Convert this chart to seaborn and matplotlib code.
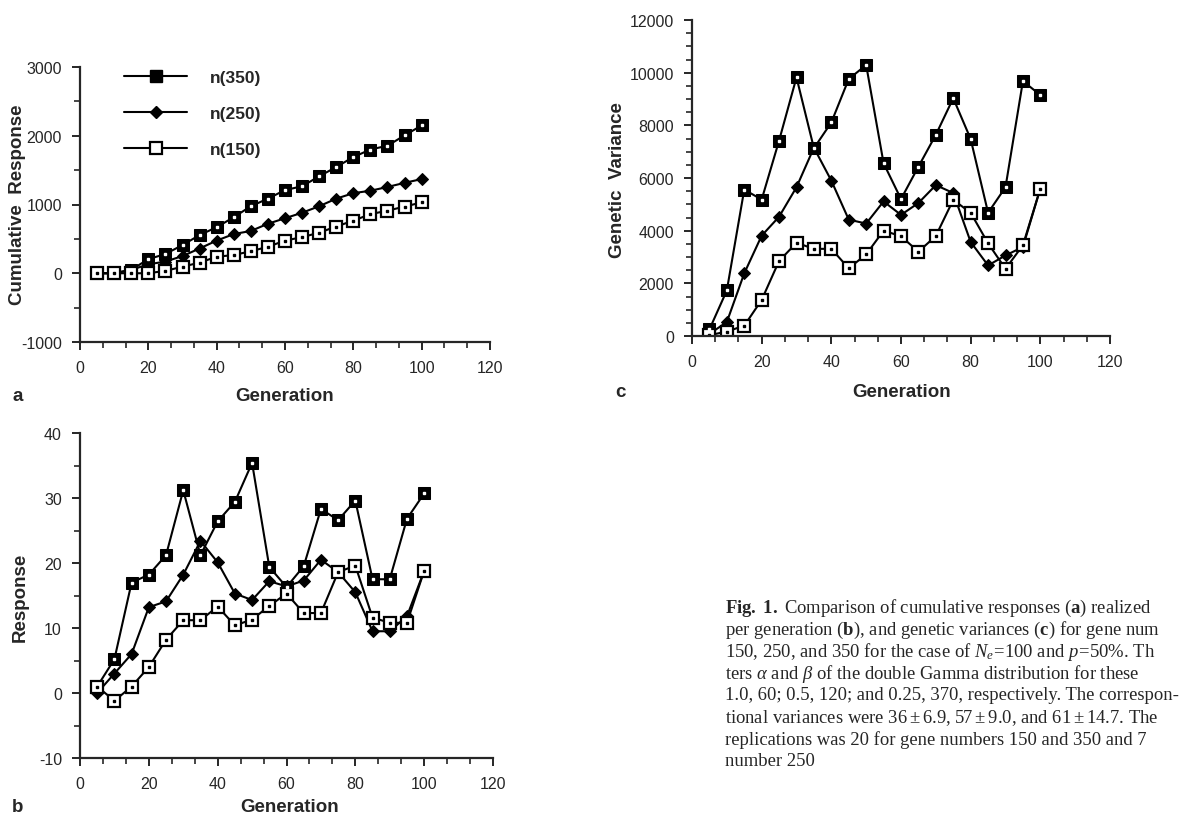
import numpy as np
import pandas as pd
import matplotlib
matplotlib.use('Agg')
import matplotlib.pyplot as plt
from matplotlib.ticker import MultipleLocator, AutoMinorLocator
import seaborn as sns

# data
generation = list(range(5, 101, 5))

cum_n350 = [0, 0, 50, 205, 280, 410, 555, 670, 815, 975, 1085, 1210, 1265, 1410, 1545, 1690, 1800, 1855, 2005, 2150]
cum_n250 = [0, 0, 50, 130, 170, 250, 360, 475, 570, 615, 720, 800, 880, 975, 1085, 1165, 1200, 1255, 1315, 1370]
cum_n150 = [0, 0, 0, 0, 35, 95, 155, 240, 265, 320, 385, 475, 525, 590, 680, 765, 860, 910, 970, 1030]

resp_n350 = [1.0, 5.2, 17.0, 18.2, 21.2, 31.2, 21.2, 26.4, 29.4, 35.4, 19.4, 16.3, 19.5, 28.3, 26.6, 29.6, 17.5, 17.5, 26.8, 30.7]
resp_n250 = [0.0, 3.0, 6.0, 13.2, 14.1, 18.2, 23.4, 20.1, 15.3, 14.3, 17.2, 16.4, 17.3, 20.5, 18.6, 15.5, 9.5, 9.5, 11.8, 18.8]
resp_n150 = [1.0, -1.2, 1.0, 4.0, 8.2, 11.2, 11.2, 13.3, 10.4, 11.3, 13.4, 15.3, 12.3, 12.3, 18.6, 19.6, 11.6, 10.8, 10.8, 18.8]

var_n350 = [250, 1730, 5560, 5180, 7420, 9820, 7130, 8110, 9760, 10290, 6560, 5200, 6430, 7640, 9030, 7480, 4680, 5650, 9680, 9150]
var_n250 = [80, 530, 2380, 3810, 4530, 5650, 7150, 5900, 4420, 4270, 5110, 4600, 5050, 5730, 5430, 3570, 2680, 3060, 3380, 5600]
var_n150 = [30, 170, 390, 1370, 2850, 3540, 3310, 3310, 2570, 3100, 4000, 3790, 3200, 3800, 5170, 4680, 3520, 2550, 3450, 5600]

series_labels = ['n(350)', 'n(250)', 'n(150)']

sns.set_style('ticks')
plt.rcParams['font.family'] = ['Liberation Sans', 'DejaVu Sans']
plt.rcParams['axes.unicode_minus'] = False
plt.rcParams['axes.linewidth'] = 1.6
plt.rcParams['xtick.major.width'] = 1.4
plt.rcParams['ytick.major.width'] = 1.4
plt.rcParams['xtick.minor.width'] = 1.2
plt.rcParams['ytick.minor.width'] = 1.2
plt.rcParams['mathtext.fontset'] = 'custom'
plt.rcParams['mathtext.rm'] = 'Liberation Serif'
plt.rcParams['mathtext.it'] = 'Liberation Serif:italic'
plt.rcParams['mathtext.bf'] = 'Liberation Serif:bold'

W, H = 1186, 820
fig = plt.figure(figsize=(W / 100, H / 100), dpi=100)


def px_axes(left, top, right, bottom):
    return fig.add_axes([left / W, 1 - bottom / H, (right - left) / W, (bottom - top) / H])


def draw_panel(ax, s350, s250, s150, ylim, ymajor, yminor):
    df = pd.DataFrame({'Generation': generation * 3,
                       'value': s350 + s250 + s150,
                       'series': [series_labels[0]] * 20 + [series_labels[1]] * 20 + [series_labels[2]] * 20})
    sns.lineplot(data=df, x='Generation', y='value', hue='series', style='series',
                 palette=['black'] * 3, markers=['s', 'D', 's'], dashes=False,
                 linewidth=1.5, markersize=8, ax=ax, legend=False)
    # restyle markers: filled square, diamond, open square
    lines = ax.get_lines()
    lines[0].set_markerfacecolor('black')
    lines[0].set_markeredgecolor('black')
    lines[1].set_markerfacecolor('black')
    lines[1].set_markeredgecolor('black')
    lines[1].set_markersize(6.5)
    lines[2].set_markerfacecolor('white')
    lines[2].set_markeredgecolor('black')
    lines[2].set_markeredgewidth(1.6)
    # little centre dots
    ax.plot(generation, s350, ls='none', marker='s', ms=2, mfc='white', mec='white')
    ax.plot(generation, s150, ls='none', marker='s', ms=2, mfc='black', mec='black')

    ax.set_xlim(0, 120)
    ax.set_ylim(*ylim)
    ax.xaxis.set_major_locator(MultipleLocator(20))
    ax.xaxis.set_minor_locator(AutoMinorLocator(3))
    ax.yaxis.set_major_locator(MultipleLocator(ymajor))
    ax.yaxis.set_minor_locator(MultipleLocator(yminor))
    ax.tick_params(which='major', direction='out', length=6, labelsize=11.5, pad=7)
    ax.tick_params(which='minor', direction='out', length=4)
    ax.set_xlabel('')
    ax.set_ylabel('')
    sns.despine(ax=ax)


# panel a
ax_a = px_axes(80, 68, 490, 343)
draw_panel(ax_a, cum_n350, cum_n250, cum_n150, (-1000, 3000), 1000, 500)
legend_handles = [
    plt.Line2D([], [], color='black', lw=1.5, marker='s', ms=8, mfc='black', mec='black'),
    plt.Line2D([], [], color='black', lw=1.5, marker='D', ms=6.5, mfc='black', mec='black'),
    plt.Line2D([], [], color='black', lw=1.5, marker='s', ms=8, mfc='white', mec='black', mew=1.6),
]
ax_a.legend(legend_handles, series_labels, loc='upper left', bbox_to_anchor=(0.07, 1.045),
            frameon=False, handlelength=3.6, handletextpad=1.3, labelspacing=1.2,
            prop={'size': 12.5, 'weight': 'bold'})

# panel b
ax_b = px_axes(80, 434, 493, 759)
draw_panel(ax_b, resp_n350, resp_n250, resp_n150, (-10, 40), 10, 5)

# panel c
ax_c = px_axes(692, 21, 1110, 337)
draw_panel(ax_c, var_n350, var_n250, var_n150, (0, 12000), 2000, 500)

lab = dict(fontsize=13.5, fontweight='bold')
fig.text(285 / W, 1 - 397 / H, 'Generation', ha='center', va='center', **lab)
fig.text(290 / W, 1 - 808 / H, 'Generation', ha='center', va='center', **lab)
fig.text(902 / W, 1 - 393 / H, 'Generation', ha='center', va='center', **lab)
fig.text(18 / W, 1 - 205 / H, 'Cumulative  Response', rotation=90, ha='center', va='center', **lab)
fig.text(20 / W, 1 - 597 / H, 'Response', rotation=90, ha='center', va='center', **lab)
fig.text(617 / W, 1 - 180 / H, 'Genetic  Variance', rotation=90, ha='center', va='center', **lab)
fig.text(18 / W, 1 - 397 / H, 'a', ha='center', va='center', **lab)
fig.text(18 / W, 1 - 808 / H, 'b', ha='center', va='center', **lab)
fig.text(620 / W, 1 - 393 / H, 'c', ha='center', va='center', **lab)

# caption
caption = [
    r'$\mathbf{Fig.\ 1.}$ Comparison of cumulative responses ($\mathbf{a}$) realized',
    r'per generation ($\mathbf{b}$), and genetic variances ($\mathbf{c}$) for gene num',
    r'150, 250, and 350 for the case of $N_e\!=\!100$ and $p\!=\!50\%$. Th',
    r'ters $\alpha$ and $\beta$ of the double Gamma distribution for these',
    r'1.0, 60; 0.5, 120; and 0.25, 370, respectively. The correspon-',
    r'tional variances were $36\pm6.9$, $57\pm9.0$, and $61\pm14.7$. The',
    r'replications was 20 for gene numbers 150 and 350 and 7',
    r'number 250',
]
for i, line in enumerate(caption):
    fig.text(725 / W, 1 - (608 + 22 * i) / H, line, ha='left', va='center',
             fontsize=13.4, family='Liberation Serif')

plt.savefig('out.png', dpi=100)
